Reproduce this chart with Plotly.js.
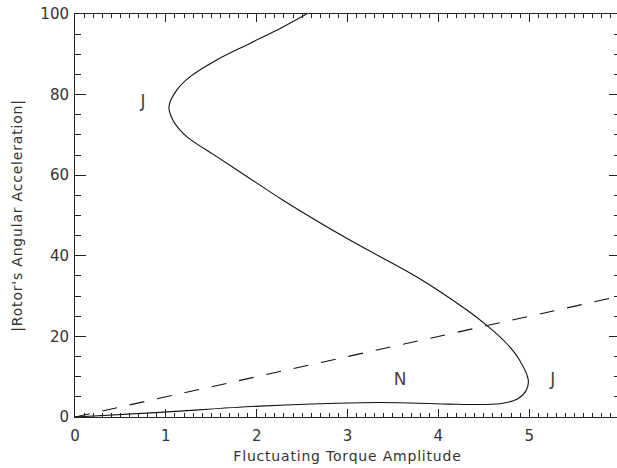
<!DOCTYPE html>
<html>
<head>
<meta charset="utf-8">
<script src="https://cdn.plot.ly/plotly-3.0.1.min.js"></script>
<style>
html,body{margin:0;padding:0;overflow:hidden;background:#fff;}
#chart{width:621px;height:468px;}
.xtitle,.ytitle{letter-spacing:0.8px;}
</style>
</head>
<body>
<div id="chart"></div>
<script>
// Response curve (traced along the path: bottom branch, turning point near x=5, upper branch)
const curveX = [0, 0.935, 2.03, 3.14, 3.575, 4.125, 4.49, 4.71, 4.88, 4.97, 4.99, 4.895, 4.75, 4.53, 4.31, 3.76, 3.025, 2.29, 1.925, 1.56, 1.25, 1.14, 1.07, 1.034, 1.12, 1.265, 1.56, 1.925, 2.29, 2.55];
const curveY = [0, 1.15, 2.7, 3.55, 3.55, 3.2, 3.1, 3.4, 4.6, 6.7, 9.2, 14.1, 18.3, 22.8, 26.6, 34.8, 43.9, 53.8, 59.2, 64.6, 69.2, 71.6, 74.0, 77.0, 81.1, 84.4, 88.6, 92.7, 96.8, 100];
// Dashed reference line
const lineX = [0, 6];
const lineY = [0, 30];
// Region labels
const labelText = ["J", "N", "J"];
const labelX = [0.75, 3.58, 5.26];
const labelY = [78, 9, 9];

const fontFam = "DejaVu Sans, sans-serif";
const txtCol = "#333";

const traces = [
  {x: curveX, y: curveY, mode: "lines", line: {color: "#111", width: 1.1, shape: "spline", smoothing: 0.9}, hoverinfo: "skip"},
  {x: lineX, y: lineY, mode: "lines", line: {color: "#111", width: 1.1, dash: "15px,13px"}, hoverinfo: "skip"},
  {x: labelX, y: labelY, text: labelText, mode: "text", textfont: {family: fontFam, size: 17, color: "#444"}, hoverinfo: "skip"},
  {x: [0], y: [0], xaxis: "x2", yaxis: "y2", mode: "markers", marker: {opacity: 0}, hoverinfo: "skip"}
];

const axisCommon = {
  showgrid: false, zeroline: false, showline: true, linecolor: "#222", linewidth: 1,
  mirror: true, ticks: "inside", tickcolor: "#222", tickwidth: 1,
  tickfont: {family: fontFam, size: 15, color: txtCol}
};

const layout = {
  width: 621, height: 468,
  margin: {l: 75, r: 1, t: 14, b: 51},
  paper_bgcolor: "#fff", plot_bgcolor: "#fff",
  showlegend: false,
  xaxis: Object.assign({}, axisCommon, {
    range: [0, 6], dtick: 1, tick0: 0, ticklen: 8, ticklabelstandoff: 5,
    minor: {dtick: 0.1, ticks: "inside", ticklen: 4, tickcolor: "#222", showgrid: false},
    title: {text: "Fluctuating Torque Amplitude", font: {family: fontFam, size: 14, color: txtCol}, standoff: 7}
  }),
  xaxis2: {
    overlaying: "x", side: "top", anchor: "y2", range: [0, 6], dtick: 1, tick0: 0,
    ticks: "inside", ticklen: 8, tickcolor: "#222", showticklabels: false,
    showgrid: false, zeroline: false, showline: false,
    minor: {dtick: 0.1, ticks: "inside", ticklen: 4, tickcolor: "#222", showgrid: false}
  },
  yaxis: Object.assign({}, axisCommon, {
    range: [0, 100], dtick: 20, tick0: 0, ticklen: 11,
    minor: {dtick: 5, ticks: "inside", ticklen: 6, tickcolor: "#222", showgrid: false},
    ticklabelstandoff: 2,
    title: {text: "|Rotor's Angular Acceleration|", font: {family: fontFam, size: 14, color: txtCol}, standoff: 14}
  }),
  yaxis2: {
    overlaying: "y", side: "right", anchor: "x2", range: [0, 100], dtick: 20, tick0: 0,
    ticks: "inside", ticklen: 11, tickcolor: "#222", showticklabels: false,
    showgrid: false, zeroline: false, showline: false,
    minor: {dtick: 5, ticks: "inside", ticklen: 6, tickcolor: "#222", showgrid: false}
  }
};

Plotly.newPlot("chart", traces, layout, {displayModeBar: false, staticPlot: true});
</script>
</body>
</html>
